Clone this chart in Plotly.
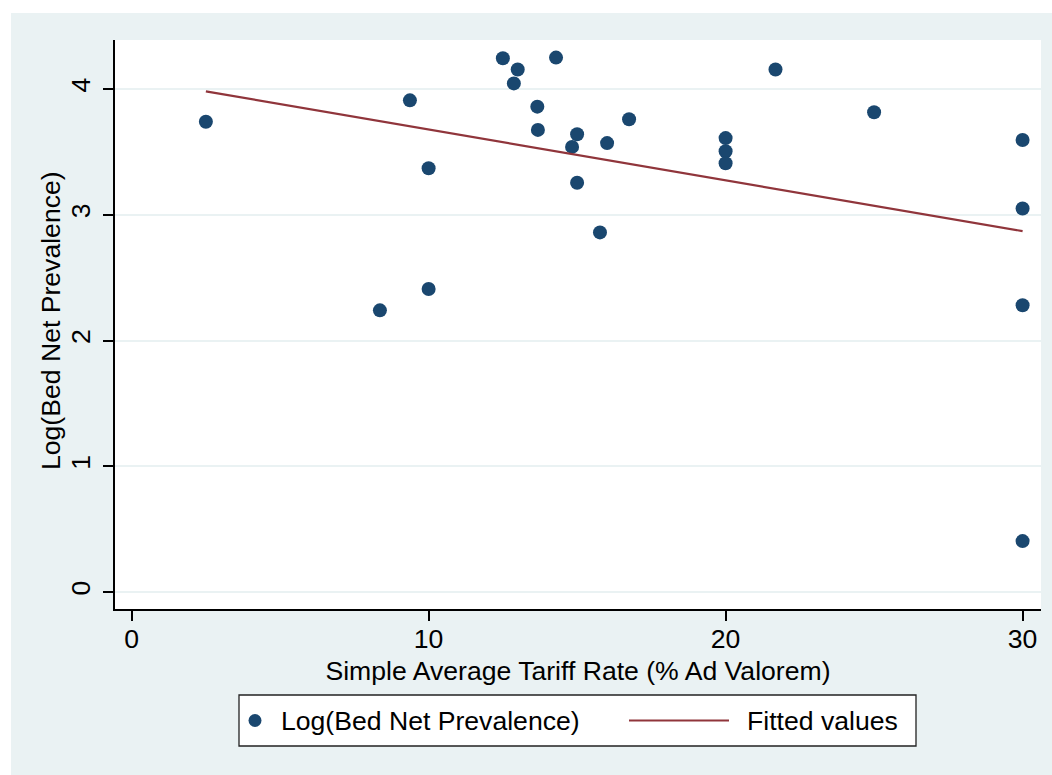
import numpy as np
import plotly.graph_objects as go

# Data
tariff = [2.5, 8.36, 9.37, 10.0, 10.0, 12.5, 13.0, 12.87, 14.29, 13.66, 13.68,
          15.0, 14.83, 16.01, 16.75, 15.0, 15.77, 20.0, 20.0, 20.0, 21.68, 25.0,
          30.0, 30.0, 30.0, 30.0]
log_bednet = [3.74, 2.24, 3.91, 3.37, 2.41, 4.245, 4.155, 4.045, 4.25, 3.86, 3.675,
              3.64, 3.54, 3.57, 3.76, 3.255, 2.86, 3.61, 3.505, 3.41, 4.155, 3.815,
              3.595, 3.05, 2.28, 0.405]
x_ticks = [0, 10, 20, 30]
y_ticks = [0, 1, 2, 3, 4]
x_title = "Simple Average Tariff Rate (% Ad Valorem)"
y_title = "Log(Bed Net Prevalence)"
series_names = ["Log(Bed Net Prevalence)", "Fitted values"]

NAVY = "#1a476f"
MAROON = "#90353b"
BG = "#eaf2f3"
FONT = "Liberation Sans, Arial, Helvetica, sans-serif"
FS = 26.6

# Linear fit (as Stata's lfit)
xa = np.array(tariff)
ya = np.array(log_bednet)
slope, intercept = np.polyfit(xa, ya, 1)
fit_x = np.array([xa.min(), xa.max()])
fit_y = intercept + slope * fit_x

fig = go.Figure()
fig.add_trace(go.Scatter(x=tariff, y=log_bednet, mode="markers", name=series_names[0],
                         marker=dict(color=NAVY, size=14, line=dict(width=0)),
                         showlegend=False))
fig.add_trace(go.Scatter(x=fit_x, y=fit_y, mode="lines", name=series_names[1],
                         line=dict(color=MAROON, width=2.2), showlegend=False))

W, H = 1052, 775
L, R, T, B = 115, 11, 40, 166
pw, ph = W - L - R, H - T - B

def px(xp):
    return (xp - L) / pw

def py(yp):
    return (H - B - yp) / ph

shapes = []
# white strips outside the outer grey frame
shapes.append(dict(type="rect", xref="paper", yref="paper", x0=px(0), x1=px(W), y0=py(0), y1=py(13),
                   fillcolor="white", line=dict(width=0), layer="above"))
shapes.append(dict(type="rect", xref="paper", yref="paper", x0=px(0), x1=px(11), y0=py(0), y1=py(H),
                   fillcolor="white", line=dict(width=0), layer="above"))
# legend box
shapes.append(dict(type="rect", xref="paper", yref="paper", x0=px(239), x1=px(916), y0=py(695), y1=py(746),
                   fillcolor="white", line=dict(color="#222222", width=1.3)))
# legend marker
shapes.append(dict(type="circle", xref="paper", yref="paper", xsizemode="pixel", ysizemode="pixel",
                   xanchor=px(255), yanchor=py(720.5), x0=-6.5, x1=6.5, y0=-6.5, y1=6.5,
                   fillcolor=NAVY, line=dict(width=0)))
# legend line
shapes.append(dict(type="line", xref="paper", yref="paper", x0=px(629), x1=px(729), y0=py(720.5), y1=py(720.5),
                   line=dict(color=MAROON, width=2.2)))

annotations = [
    dict(text=series_names[0], xref="paper", yref="paper", x=px(279), y=py(720.5), xanchor="left",
         yanchor="middle", showarrow=False, font=dict(family=FONT, size=FS, color="black")),
    dict(text=series_names[1], xref="paper", yref="paper", x=px(745), y=py(720.5), xanchor="left",
         yanchor="middle", showarrow=False, font=dict(family=FONT, size=FS, color="black")),
    # y-axis title
    dict(text=y_title, xref="paper", yref="paper", x=px(51), y=py(321), xanchor="center",
         yanchor="middle", textangle=-90, showarrow=False,
         font=dict(family=FONT, size=FS, color="black")),
]

fig.update_layout(
    width=W, height=H,
    margin=dict(l=L, r=R, t=T, b=B, autoexpand=False),
    paper_bgcolor=BG, plot_bgcolor="white",
    font=dict(family=FONT, size=FS, color="black"),
    showlegend=False,
    shapes=shapes, annotations=annotations,
    xaxis=dict(range=[-0.56, 30.62], tickvals=x_ticks, ticktext=[str(v) for v in x_ticks],
               showgrid=False, zeroline=False, showline=True, linecolor="black", linewidth=1.5,
               ticks="outside", ticklen=10, tickwidth=1.5, tickcolor="black", ticklabelstandoff=-5,
               title=dict(text=x_title, standoff=9, font=dict(size=FS)), automargin=False),
    yaxis=dict(range=[-0.135, 4.39], tickvals=y_ticks, ticktext=[str(v) for v in y_ticks],
               showgrid=True, gridcolor=BG, gridwidth=2, zeroline=False,
               showline=True, linecolor="black", linewidth=1.5,
               ticks="outside", ticklen=10, tickwidth=1.5, tickcolor="black", tickangle=-90,
               ticklabelstandoff=3, automargin=False),
)

post = ("document.documentElement.style.overflow='hidden';"
        "document.documentElement.style.background='" + BG + "';"
        "document.body.style.margin='0px';"
        "document.body.style.overflow='hidden';"
        "document.body.style.background='" + BG + "';")
fig.write_html("out.html", config={"displayModeBar": False}, post_script=post)
